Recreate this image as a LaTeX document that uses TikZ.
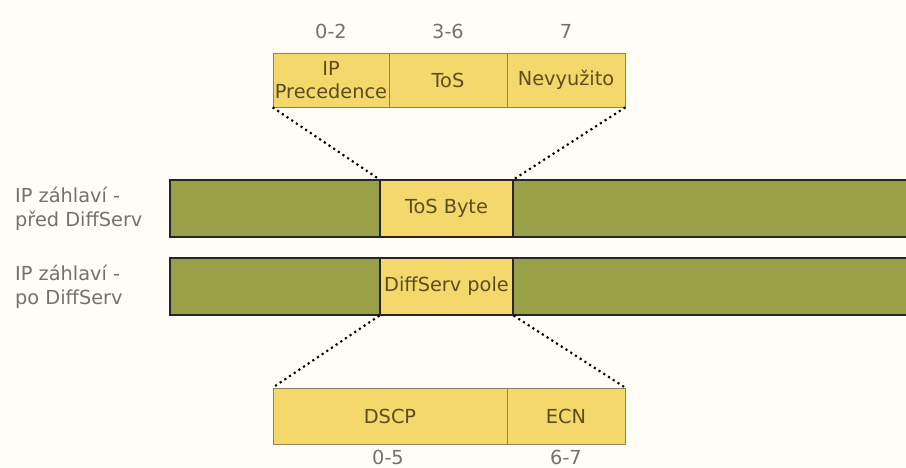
\documentclass[tikz,border=0pt]{standalone}
\usepackage{fontspec}
\setmainfont{DejaVu Sans}
\usetikzlibrary{positioning}

\definecolor{fieldyellow}{HTML}{F4D86C}
\definecolor{headgreen}{HTML}{9AA047}
\definecolor{fieldtext}{HTML}{5C4D20}
\definecolor{numtext}{HTML}{727272}
\definecolor{paper}{HTML}{FFFDF6}

\tikzset{
  field/.style={draw=fieldtext!70, fill=fieldyellow, text=fieldtext, inner sep=0pt,
                align=center, font=\fontsize{11}{13}\selectfont},
  head/.style={draw=black!85, fill=headgreen, inner sep=0pt, line width=0.7pt},
  bits/.style={text=numtext, font=\fontsize{11}{13}\selectfont},
  rowlabel/.style={text=numtext, align=left, anchor=west, font=\fontsize{11}{13.5}\selectfont},
  zoom/.style={dotted, line width=1.2pt}
}

\begin{document}
\begin{tikzpicture}[x=0.02cm, y=-0.02cm]
    \fill[paper] (0,0) rectangle (906,467);
    \useasboundingbox (0,0) rectangle (906,467);

    % ToS byte split
    \node[field, minimum width=2.32cm, minimum height=1.08cm] (prec) at (331,80) {IP\\Precedence};
    \node[field, minimum width=2.36cm, minimum height=1.08cm] (tos) at (448,80) {ToS};
    \node[field, minimum width=2.36cm, minimum height=1.08cm] (unused) at (566,80) {Nevyužito};
    \node[bits] (b02) at (331,31) {0-2};
    \node[bits] (b36) at (448,31) {3-6};
    \node[bits] (b7) at (566,31) {7};

    % header before DiffServ
    \node[head, minimum width=4.2cm, minimum height=1.14cm] (oldl) at (275,208.5) {};
    \node[field, draw=black!85, line width=0.7pt, minimum width=2.66cm, minimum height=1.14cm] (tosbyte) at (446.5,208.5) {ToS Byte};
    \node[head, minimum width=8.0cm, minimum height=1.14cm] (oldr) at (713,208.5) {};
    \node[rowlabel] (oldlbl) at (9,209) {IP záhlaví -\\před DiffServ};

    % header after DiffServ
    \node[head, minimum width=4.2cm, minimum height=1.14cm] (newl) at (275,286.5) {};
    \node[field, draw=black!85, line width=0.7pt, minimum width=2.66cm, minimum height=1.14cm] (dsfield) at (446.5,286.5) {DiffServ pole};
    \node[head, minimum width=8.0cm, minimum height=1.14cm] (newr) at (713,286.5) {};
    \node[rowlabel] (newlbl) at (9,287) {IP záhlaví -\\po DiffServ};

    % DiffServ field split
    \node[field, minimum width=4.68cm, minimum height=1.12cm] (dscp) at (390,416) {DSCP};
    \node[field, minimum width=2.36cm, minimum height=1.12cm] (ecn) at (566,416) {ECN};
    \node[bits] (b05) at (388,457) {0-5};
    \node[bits] (b67) at (566,457) {6-7};

    \draw[zoom] (prec.south west) -- (tosbyte.north west);
    \draw[zoom] (unused.south east) -- (tosbyte.north east);
    \draw[zoom] (dsfield.south west) -- (dscp.north west);
    \draw[zoom] (dsfield.south east) -- (ecn.north east);
\end{tikzpicture}
\end{document}
